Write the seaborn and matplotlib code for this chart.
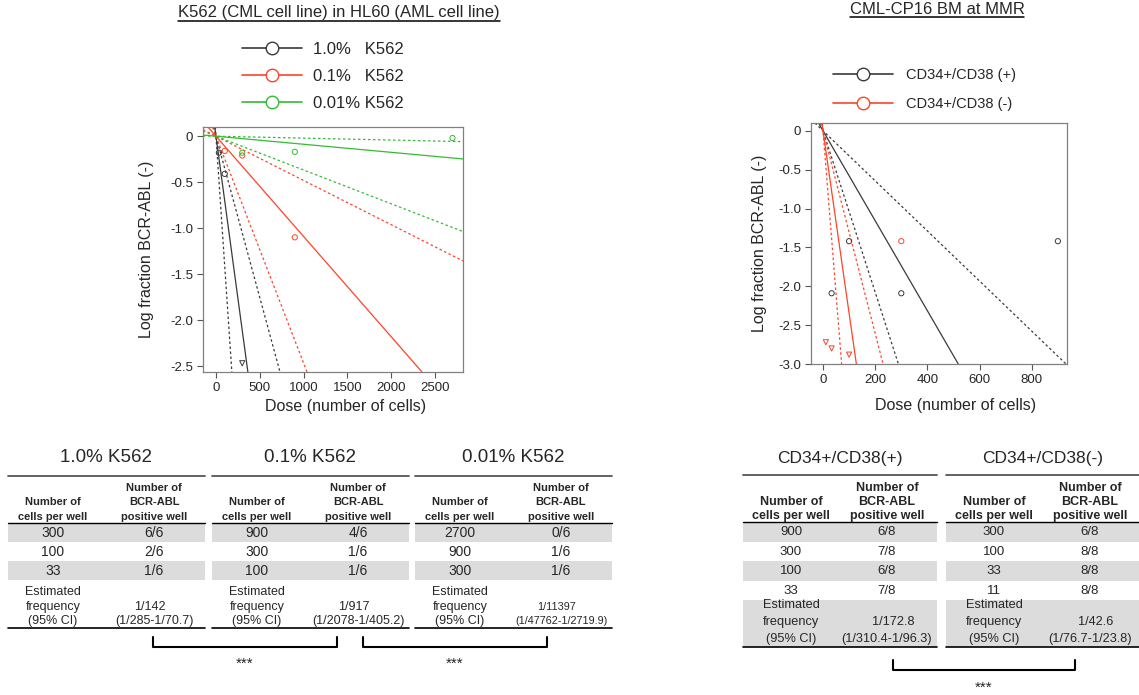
import matplotlib
matplotlib.use("Agg")
import matplotlib.pyplot as plt
from matplotlib.lines import Line2D
import seaborn as sns
import pandas as pd

# K562 (CML) diluted in HL60 (AML)
k562_groups = ["1.0%   K562", "0.1%   K562", "0.01% K562"]
k562_tables = ["1.0% K562", "0.1% K562", "0.01% K562"]
k562_dose = [[300, 100, 33], [900, 300, 100], [2700, 900, 300]]
k562_logfrac = [[-2.47, -0.41, -0.18], [-1.10, -0.21, -0.16], [-0.02, -0.17, -0.18]]
k562_allpos = [[True, False, False], [False, False, False], [False, False, False]]
k562_pos = [["6/6", "2/6", "1/6"], ["4/6", "1/6", "1/6"], ["0/6", "1/6", "1/6"]]
k562_est = [142, 917, 11397]
k562_lo = [285, 2078, 47762]
k562_hi = [70.7, 405.2, 2719.9]

# CML-CP16 bone marrow
cml_groups = ["CD34+/CD38 (+)", "CD34+/CD38 (-)"]
cml_tables = ["CD34+/CD38(+)", "CD34+/CD38(-)"]
cml_dose = [[900, 300, 100, 33], [300, 100, 33, 11]]
cml_logfrac = [[-1.42, -2.09, -1.42, -2.09], [-1.42, -2.88, -2.80, -2.72]]
cml_allpos = [[False, False, False, False], [False, True, True, True]]
cml_pos = [["6/8", "7/8", "6/8", "7/8"], ["6/8", "8/8", "8/8", "8/8"]]
cml_est = [172.8, 42.6]
cml_lo = [310.4, 76.7]
cml_hi = [96.3, 23.8]

BLACK, RED, GREEN = "#3a3a3a", "#ff4326", "#33bb33"

sns.set_style("ticks")
plt.rcParams["font.family"] = ["Liberation Sans", "DejaVu Sans"]
plt.rcParams["axes.unicode_minus"] = False

W, H = 1139, 695
fig = plt.figure(figsize=(W / 100, H / 100), dpi=100)
ov = fig.add_axes([0, 0, 1, 1])  # overlay in image pixels
ov.set_xlim(0, W)
ov.set_ylim(H, 0)
ov.set_axis_off()


def limdil_panel(ax, groups, doses, logfracs, allpos, est, lo, hi, colors):
    rows = []
    for g, d, y, a in zip(groups, doses, logfracs, allpos):
        for di, yi, ai in zip(d, y, a):
            rows.append({"dose": di, "logfrac": yi, "group": g, "kind": "all" if ai else "obs"})
    df = pd.DataFrame(rows)
    for e, l, h, c in zip(est, lo, hi, colors):
        ax.axline((0, 0), slope=-1 / e, color=c, lw=0.9)
        for f in (l, h):
            ax.axline((0, 0), slope=-1 / f, color=c, lw=0.9, ls=(0, (2, 2)))
    sns.scatterplot(data=df, x="dose", y="logfrac", hue="group", style="kind",
                    palette=dict(zip(groups, colors)), markers={"obs": "o", "all": "v"},
                    s=14, legend=False, ax=ax, zorder=3)
    coll = ax.collections[-1]
    fc = coll.get_facecolors().copy()
    coll.set_edgecolors(fc)
    coll.set_facecolors("none")
    coll.set_linewidths(0.7)


def style_axes(ax, xlim, ylim, xticks, yticks, xlab_xy, ylab_xy):
    ax.set_xlim(xlim)
    ax.set_ylim(ylim)
    ax.set_xticks(xticks)
    ax.set_yticks(yticks)
    ax.set_yticklabels(["0" if t == 0 else f"{t:.1f}" for t in yticks])
    for s in ax.spines.values():
        s.set_visible(True)
        s.set_color("#808080")
        s.set_linewidth(0.9)
    ax.tick_params(direction="out", length=4, width=0.8, color="#555555",
                   labelsize=9.5, pad=3)
    ax.set_xlabel("Dose (number of cells)", fontsize=11.5)
    ax.set_ylabel("Log fraction BCR-ABL (-)", fontsize=11.5)
    ax.xaxis.set_label_coords(*xlab_xy)
    ax.yaxis.set_label_coords(*ylab_xy)


# left plot
ax1 = fig.add_axes([203 / W, 1 - 372 / H, 260 / W, 245 / H])
limdil_panel(ax1, k562_groups, k562_dose, k562_logfrac, k562_allpos,
             k562_est, k562_lo, k562_hi, [BLACK, RED, GREEN])
style_axes(ax1, (-148, 2820), (-2.565, 0.1), [0, 500, 1000, 1500, 2000, 2500],
           [0, -0.5, -1.0, -1.5, -2.0, -2.5], (0.55, -0.112), (-0.19, 0.5))

# right plot
ax2 = fig.add_axes([811 / W, 1 - 364 / H, 256 / W, 241 / H])
limdil_panel(ax2, cml_groups, cml_dose, cml_logfrac, cml_allpos,
             cml_est, cml_lo, cml_hi, [BLACK, RED])
style_axes(ax2, (-46, 935), (-3.0, 0.1), [0, 200, 400, 600, 800],
           [0, -0.5, -1.0, -1.5, -2.0, -2.5, -3.0], (0.566, -0.141), (-0.17, 0.5))


def make_legend(groups, colors, x, y, fs, lsp, hl, htp):
    handles = [Line2D([], [], color=c, lw=1.2, marker="o", markersize=9,
                      markerfacecolor="white", markeredgecolor=c, markeredgewidth=1)
               for c in colors]
    fig.legend(handles, groups, loc="center left", bbox_to_anchor=(x / W, 1 - y / H),
               frameon=False, fontsize=fs, labelspacing=lsp, handlelength=hl,
               handletextpad=htp, borderpad=0, borderaxespad=0)


make_legend(k562_groups, [BLACK, RED, GREEN], 242, 76.5, 12, 0.7, 3.6, 0.66)
make_legend(cml_groups, [BLACK, RED], 833, 89.5, 10.5, 0.99, 4.1, 0.9)

# underlined titles
titles = [ov.text(339, 13, "K562 (CML cell line) in HL60 (AML cell line)", ha="center",
                  va="center", fontsize=12),
          ov.text(937, 10, "CML-CP16 BM at MMR", ha="center", va="center", fontsize=12)]


def draw_table(x0, w, title, doses, pos, est, lo, hi, g):
    ov.text(x0 + w / 2, g["title_y"], title, ha="center", va="center", fontsize=g["title_fs"])
    c1, c2 = x0 + g["c1"], x0 + g["c2"]
    ov.plot([x0, x0 + w], [g["top"], g["top"]], color="#555555", lw=1.3)
    for yy, t in zip(g["h1"], ["Number of", "cells per well"]):
        ov.text(c1, yy, t, ha="center", va="center", fontsize=g["head_fs"], fontweight="bold")
    for yy, t in zip(g["h2"], ["Number of", "BCR-ABL", "positive well"]):
        ov.text(c2, yy, t, ha="center", va="center", fontsize=g["head_fs"], fontweight="bold")
    ov.plot([x0, x0 + w], [g["head"], g["head"]], color="black", lw=1.0)
    rh = g["row_h"]
    for i, (d, p) in enumerate(zip(doses, pos)):
        top = g["head"] + i * rh
        if i % 2 == 0:
            ov.fill_between([x0, x0 + w], top, top + rh, color="#dcdcdc", lw=0)
        ov.text(c1, top + rh / 2 + 0.5, str(d), ha="center", va="center", fontsize=g["val_fs"])
        ov.text(c2, top + rh / 2 + 0.5, p, ha="center", va="center", fontsize=g["val_fs"])
    etop = g["head"] + len(doses) * rh
    if len(doses) % 2 == 0:
        ov.fill_between([x0, x0 + w], etop, g["bottom"], color="#dcdcdc", lw=0)
    for yy, t in zip(g["est_y"], ["Estimated", "frequency", "(95% CI)"]):
        ov.text(c1, yy, t, ha="center", va="center", fontsize=g["est_fs"])
    ci = f"(1/{lo:g}-1/{hi:g})"
    vfs = g["est_fs"] - (1.2 if len(ci) > 17 else 0)
    ov.text(c2 + g["f_dx"], g["est_y"][1], f"1/{est:g}", ha="center", va="center", fontsize=vfs)
    ov.text(c2, g["est_y"][2], ci, ha="center", va="center", fontsize=vfs)
    ov.plot([x0, x0 + w], [g["bottom"], g["bottom"]], color="black", lw=1.2)


left_geo = dict(title_y=457, title_fs=13.5, top=476, head=523, row_h=19, bottom=628,
                h1=(502, 517), h2=(488, 502, 517), est_y=(592, 607, 621), c1=45, c2=146,
                f_dx=-4, head_fs=8, val_fs=10, est_fs=9)
right_geo = dict(title_y=458, title_fs=12.5, top=475, head=522, row_h=19.5, bottom=647,
                 h1=(502, 516), h2=(488, 502, 516), est_y=(605, 622, 639), c1=48, c2=144,
                 f_dx=6, head_fs=9, val_fs=9.5, est_fs=9.2)

for x0, t, d, p, e, l, h in zip([8, 212, 415], k562_tables, k562_dose, k562_pos,
                                k562_est, k562_lo, k562_hi):
    draw_table(x0, 197, t, d, p, e, l, h, left_geo)
for x0, t, d, p, e, l, h in zip([743, 946], cml_tables, cml_dose, cml_pos,
                                cml_est, cml_lo, cml_hi):
    draw_table(x0, 194, t, d, p, e, l, h, right_geo)

# significance brackets
for xa, xb, ya, yb, ys in [(153, 337, 637, 647, 664), (363, 547, 637, 647, 664),
                           (893, 1075, 660, 670, 688)]:
    ov.plot([xa, xa, xb, xb], [ya, yb, yb, ya], color="black", lw=1.5)
    ov.text((xa + xb) / 2, ys, "***", ha="center", va="center", fontsize=11)

fig.canvas.draw()
for t, uy in zip(titles, [21, 17]):
    bb = t.get_window_extent()
    ov.plot([bb.x0, bb.x1], [uy, uy], color="black", lw=1.1)

fig.savefig("out.png", dpi=100)
